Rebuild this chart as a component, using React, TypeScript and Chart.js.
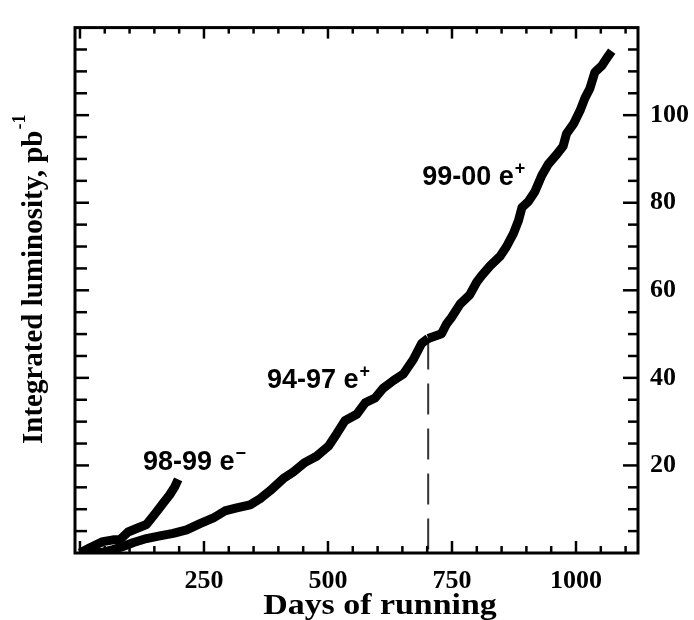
import React, { useEffect, useRef } from "react";
import { Chart, registerables } from "chart.js";

Chart.register(...registerables);

// ---- data ----
const DAYS_98_99 = [0, 20, 46, 67, 81, 97, 114, 134, 151, 168, 181, 191, 198];
const LUMI_98_99 = [0, 1.2, 2.6, 3.0, 3.1, 4.8, 5.6, 6.5, 8.9, 11.4, 13.3, 15.1, 16.8];

const DAYS_94_97 = [0, 47, 67, 87, 108, 134, 161, 188, 215, 242, 269, 292, 316, 343, 363, 383, 410, 430, 454, 477, 501, 518, 534, 558, 575, 595, 611, 632, 652, 672, 689, 702];
const LUMI_94_97 = [0, 0.2, 0.8, 1.5, 2.4, 3.3, 3.9, 4.5, 5.3, 6.7, 8.0, 9.6, 10.3, 11.0, 12.4, 14.2, 17.0, 18.5, 20.7, 22.1, 24.4, 27.3, 30.2, 31.7, 34.3, 35.4, 37.6, 39.4, 40.9, 44.2, 47.9, 49.0];

const DAYS_99_00 = [702, 729, 739, 749, 766, 786, 800, 810, 827, 847, 860, 874, 884, 891, 904, 917, 931, 944, 961, 974, 981, 995, 1008, 1018, 1028, 1038, 1052, 1065, 1072];
const LUMI_99_00 = [49.0, 50.1, 52.3, 53.8, 56.8, 59.0, 61.9, 63.4, 65.6, 67.8, 70.0, 73.0, 75.9, 78.9, 80.3, 82.5, 86.2, 88.8, 91.0, 92.9, 95.8, 98.0, 101.0, 103.9, 106.1, 109.8, 111.3, 113.5, 114.6];

const SWITCH_DAY = [702, 702];
const SWITCH_LUMI = [49, 0];

const X_TICKS = [250, 500, 750, 1000];
const Y_TICKS = [20, 40, 60, 80, 100];
const X_MIN = -10;
const X_MAX = 1125;
const Y_MIN = 0;
const Y_MAX = 120;

const LABELS = [
  { day: 127, lumi: 18.9, text: "98-99 e", sup: "\u2212" },
  { day: 377, lumi: 37.7, text: "94-97 e", sup: "+" },
  { day: 690, lumi: 84.1, text: "99-00 e", sup: "+" },
];

const X_TITLE = "Days of running";
const Y_TITLE = "Integrated luminosity, pb";
const Y_TITLE_SUP = "-1";

const SERIF = '"Liberation Serif", "Times New Roman", serif';
const SANS = '"Liberation Sans", Arial, sans-serif';

const pts = (xs: number[], ys: number[]) => xs.map((x, i) => ({ x, y: ys[i] }));

const framePlugin = {
  id: "frameTicks",
  afterDatasetsDraw(chart: any) {
    const { ctx, chartArea: a, scales } = chart;
    const xs = scales.x;
    const ys = scales.y;
    ctx.save();
    ctx.strokeStyle = "#000";
    ctx.lineWidth = 2.5;
    const seg = (x1: number, y1: number, x2: number, y2: number) => {
      ctx.beginPath();
      ctx.moveTo(x1, y1);
      ctx.lineTo(x2, y2);
      ctx.stroke();
    };
    for (let v = 0; v <= X_MAX; v += 50) {
      const px = xs.getPixelForValue(v);
      if (px <= a.left + 1 || px >= a.right - 1) continue;
      const major = v % 250 === 0;
      seg(px, a.bottom, px, a.bottom - (major ? 12 : 7));
      seg(px, a.top, px, a.top + (major ? 11 : 6));
    }
    for (let v = 5; v < Y_MAX; v += 5) {
      const py = ys.getPixelForValue(v);
      const major = v % 20 === 0;
      seg(a.right, py, a.right - (major ? 15 : 10), py);
      seg(a.left, py, a.left + (major ? 14 : 12), py);
    }
    ctx.lineWidth = 3;
    ctx.strokeRect(a.left, a.top, a.right - a.left, a.bottom - a.top);

    // curve annotations
    ctx.fillStyle = "#000";
    ctx.textAlign = "left";
    ctx.textBaseline = "alphabetic";
    for (const l of LABELS) {
      const x = xs.getPixelForValue(l.day);
      const y = ys.getPixelForValue(l.lumi);
      ctx.font = `bold 27px ${SANS}`;
      ctx.fillText(l.text, x, y);
      const w = ctx.measureText(l.text).width;
      ctx.font = `bold 18px ${SANS}`;
      ctx.fillText(l.sup, x + w + 1, y - 11);
    }

    // x title
    ctx.save();
    ctx.font = `bold 30px ${SERIF}`;
    ctx.textAlign = "center";
    ctx.translate(380, a.bottom + 61);
    ctx.scale(1.13, 1);
    ctx.fillText(X_TITLE, 0, 0);
    ctx.restore();

    // y title
    ctx.save();
    ctx.font = `bold 29px ${SERIF}`;
    const wm = ctx.measureText(Y_TITLE).width;
    ctx.font = `bold 18px ${SERIF}`;
    const ws = ctx.measureText(Y_TITLE_SUP).width;
    const cy = (a.top + a.bottom) / 2 - 11;
    ctx.translate(42, cy);
    ctx.rotate(-Math.PI / 2);
    const start = -(wm + ws + 1) / 2;
    ctx.textAlign = "left";
    ctx.font = `bold 29px ${SERIF}`;
    ctx.fillText(Y_TITLE, start, 0);
    ctx.font = `bold 18px ${SERIF}`;
    ctx.fillText(Y_TITLE_SUP, start + wm + 1, -17);
    ctx.restore();

    ctx.restore();
  },
};

export default function App() {
  const ref = useRef<HTMLCanvasElement | null>(null);
  useEffect(() => {
    document.body.style.margin = "0";
    const canvas = ref.current;
    if (!canvas) return;
    const curve = (label: string, xs: number[], ys: number[]) => ({
      label,
      data: pts(xs, ys),
      borderColor: "#000",
      borderWidth: 9,
      pointRadius: 0,
      tension: 0,
      borderJoinStyle: "round" as const,
    });
    const chart = new Chart(canvas, {
      type: "line",
      data: {
        datasets: [
          curve("98-99 e-", DAYS_98_99, LUMI_98_99),
          curve("94-97 e+", DAYS_94_97, LUMI_94_97),
          curve("99-00 e+", DAYS_99_00, LUMI_99_00),
          {
            label: "switch",
            data: pts(SWITCH_DAY, SWITCH_LUMI),
            borderColor: "#333",
            borderWidth: 2,
            borderDash: [31, 14],
            pointRadius: 0,
          },
        ],
      },
      options: {
        animation: false,
        responsive: false,
        layout: { padding: { left: 75, top: 10, right: 0, bottom: 0 } },
        plugins: { legend: { display: false }, tooltip: { enabled: false } },
        scales: {
          x: {
            type: "linear",
            min: X_MIN,
            max: X_MAX,
            grid: { display: false, drawTicks: false },
            border: { display: false },
            afterBuildTicks: (s: any) => {
              s.ticks = X_TICKS.map((v) => ({ value: v }));
            },
            afterFit: (s: any) => {
              s.height = 67;
            },
            ticks: {
              padding: 13,
              maxRotation: 0,
              autoSkip: false,
              color: "#000",
              font: { family: SERIF, size: 26, weight: "bold" },
              callback: (v: any) => String(v),
            },
          },
          y: {
            type: "linear",
            position: "right",
            min: Y_MIN,
            max: Y_MAX,
            grid: { display: false, drawTicks: false },
            border: { display: false },
            afterBuildTicks: (s: any) => {
              s.ticks = Y_TICKS.map((v) => ({ value: v }));
            },
            afterFit: (s: any) => {
              s.width = 56;
            },
            ticks: {
              padding: 12,
              autoSkip: false,
              color: "#000",
              font: { family: SERIF, size: 26, weight: "bold" },
              callback: (v: any) => String(v),
            },
          },
        },
      },
      plugins: [framePlugin],
    });
    return () => chart.destroy();
  }, []);
  return (
    <div style={{ width: 694, height: 620, background: "#fff" }}>
      <canvas ref={ref} width={694} height={620} style={{ display: "block" }} />
    </div>
  );
}
